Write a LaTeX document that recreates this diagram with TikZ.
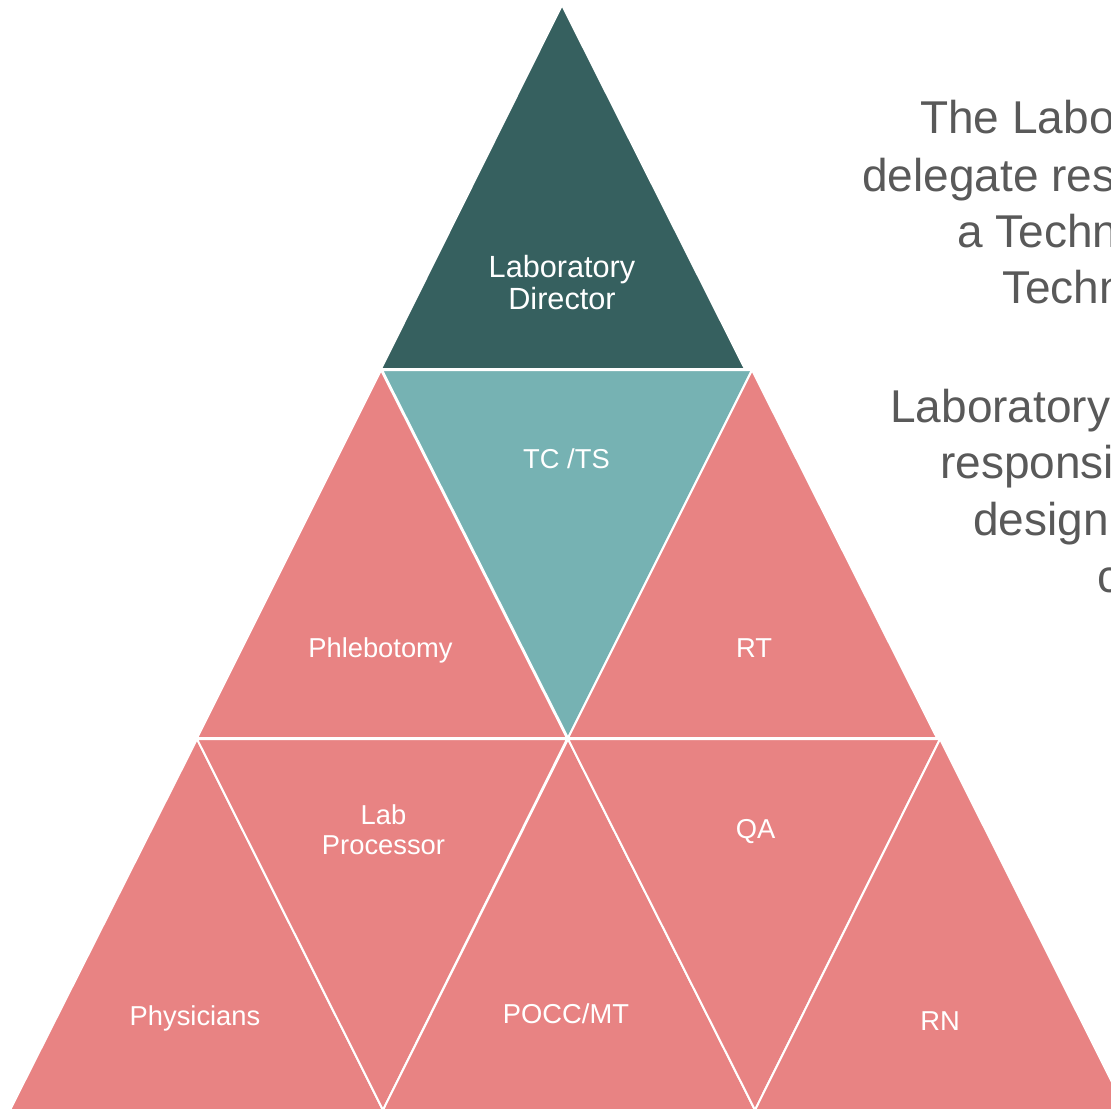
\documentclass[tikz,border=0pt]{standalone}
\usepackage{fontspec}
\setmainfont{Liberation Sans}
\definecolor{darkteal}{HTML}{36605F}
\definecolor{lightteal}{HTML}{76B2B3}
\definecolor{coral}{HTML}{E88383}
\definecolor{txtgray}{HTML}{595959}
\begin{document}
\begin{tikzpicture}[x=0.75pt,y=-0.75pt,
  tri/.style={draw=white,line width=1.5pt,line join=round},
  lbl/.style={text=white,inner sep=0pt,font=\fontsize{20.5}{22.5}\selectfont,align=center},
  biglbl/.style={text=white,inner sep=0pt,font=\fontsize{23}{24}\selectfont,align=center},
  side/.style={text=txtgray,inner sep=0pt,anchor=base west,font=\fontsize{34.5}{42}\selectfont}]
\useasboundingbox (0,0) rectangle (1111,1108);
\clip (0,0) rectangle (1111,1108);
% row 1
\path[fill=darkteal,tri] (562,5) -- (381,369) -- (745,369) -- cycle;
% row 2
\path[fill=coral,tri] (381,370) -- (197,738) -- (567,738) -- cycle;
\path[fill=lightteal,tri] (382,370) -- (752,370) -- (568,738) -- cycle;
\path[fill=coral,tri] (752,370) -- (568,738) -- (937,738) -- cycle;
% row 3
\path[fill=coral,tri] (197,739) -- (10,1110) -- (383,1110) -- cycle;
\path[fill=coral,tri] (197,739) -- (567,739) -- (383,1110) -- cycle;
\path[fill=coral,tri] (568,739) -- (383,1110) -- (755,1110) -- cycle;
\path[fill=coral,tri] (568,739) -- (940,739) -- (755,1110) -- cycle;
\path[fill=coral,tri] (940,739) -- (755,1110) -- (1126,1110) -- cycle;
% labels
\node[biglbl] (dir) at (562,283) {Laboratory\\Director};
\node[lbl,anchor=base] (tc) at (566.5,468) {TC /TS};
\node[lbl,anchor=base] (phl) at (380.5,657) {Phlebotomy};
\node[lbl,anchor=base] (rt) at (754,657) {RT};
\node[lbl] (lp) at (383.5,830) {Lab\\Processor};
\node[lbl,anchor=base] (qa) at (755.5,838) {QA};
\node[lbl,anchor=base] (phy) at (195,1025) {Physicians};
\node[lbl,anchor=base] (pocc) at (566,1023) {POCC/MT};
\node[lbl,anchor=base] (rn) at (940,1030) {RN};
% side text
\node[side] (s1) at (920,133) {The Labo};
\node[side] (s2) at (862,191) {delegate res};
\node[side] (s3) at (957,247) {a Techn};
\node[side] (s4) at (1002,303) {Techn};
\node[side] (s5) at (890,422) {Laboratory};
\node[side] (s6) at (940,478) {responsi};
\node[side] (s7) at (973,535) {design};
\node[side] (s8) at (1097,592) {c};
\end{tikzpicture}
\end{document}
